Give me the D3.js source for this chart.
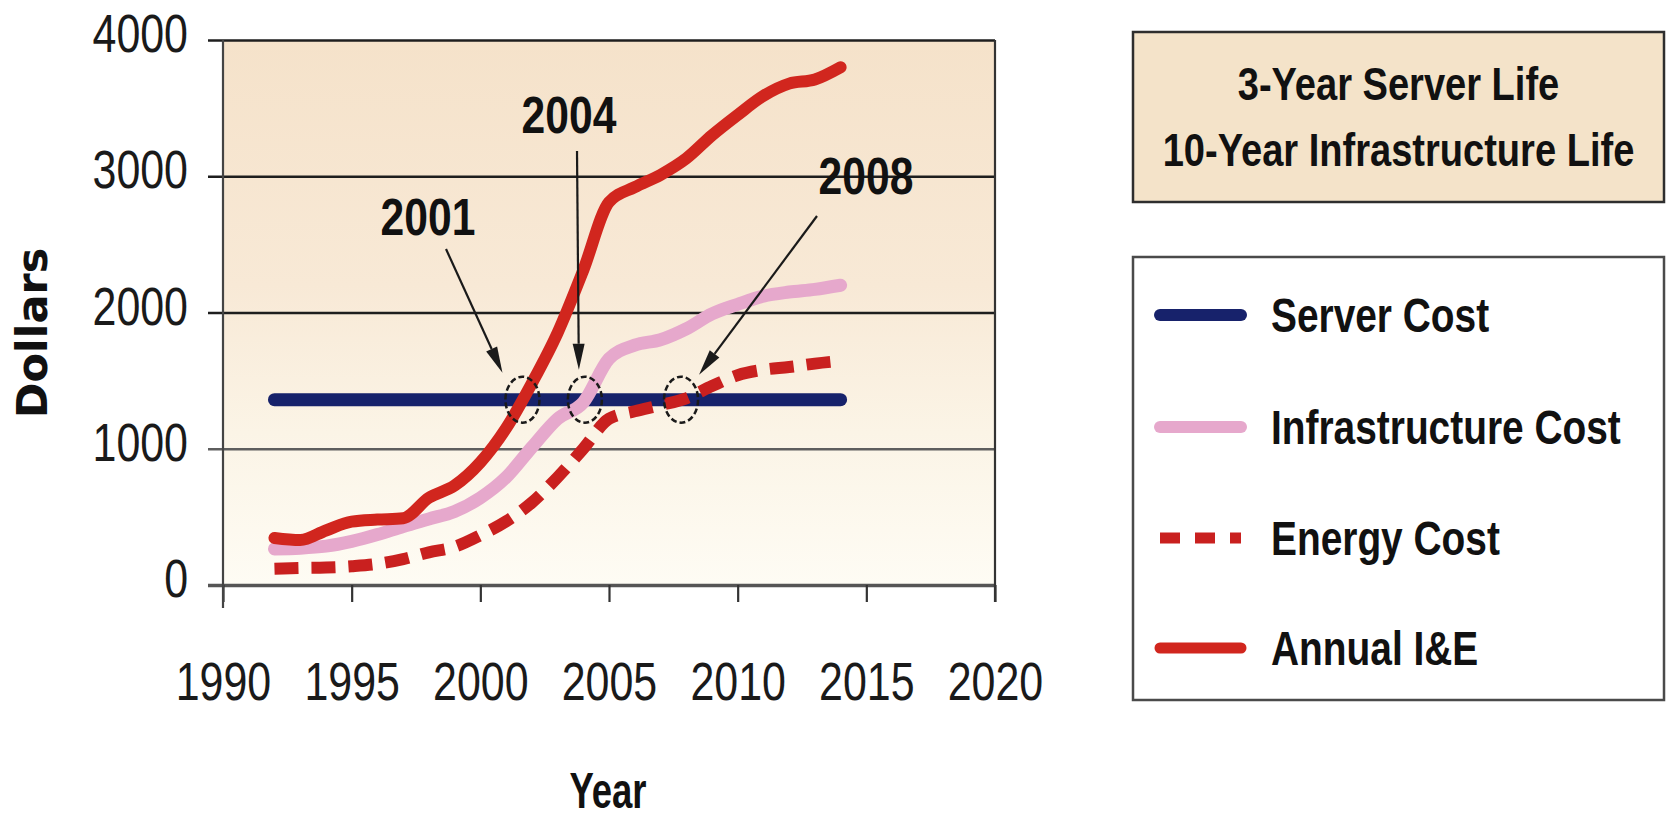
<!DOCTYPE html>
<html>
<head>
<meta charset="utf-8">
<script src="https://cdn.jsdelivr.net/npm/d3@7"></script>
<style>
  html, body { margin: 0; padding: 0; background: #ffffff; }
  svg { display: block; }
</style>
</head>
<body>
<svg id="chart" width="1667" height="820"></svg>
<script>
// ---- data ----
const years = [1992, 1993, 1994, 1995, 1996, 1997, 1998, 1999, 2000, 2001, 2002, 2003,
               2004, 2005, 2006, 2007, 2008, 2009, 2010, 2011, 2012, 2013, 2014];
const serverCost = [1360, 1360, 1360, 1360, 1360, 1360, 1360, 1360, 1360, 1360, 1360, 1360,
                    1360, 1360, 1360, 1360, 1360, 1360, 1360, 1360, 1360, 1360, 1360];
const infrastructureCost = [265, 270, 285, 320, 370, 430, 485, 540, 640, 790, 1010, 1220,
                            1340, 1660, 1760, 1800, 1880, 1990, 2060, 2120, 2150, 2170, 2200];
const energyCost = [120, 125, 128, 138, 155, 190, 240, 280, 365, 467, 605, 790,
                    1000, 1220, 1275, 1320, 1370, 1460, 1540, 1580, 1600, 1625, 1645];
const annualIE = [345, 330, 400, 465, 480, 490, 640, 730, 900, 1150, 1480, 1850,
                  2310, 2810, 2920, 3010, 3130, 3300, 3450, 3590, 3680, 3710, 3800];

const xTicks = [1990, 1995, 2000, 2005, 2010, 2015, 2020];
const yTicks = [0, 1000, 2000, 3000, 4000];
const seriesNames = ["Server Cost", "Infrastructure Cost", "Energy Cost", "Annual I&E"];
const boxTitle = ["3-Year Server Life", "10-Year Infrastructure Life"];
const calloutLabels = ["2001", "2004", "2008"];
const axisTitles = { x: "Year", y: "Dollars" };

// ---- setup ----
const svg = d3.select("#chart");
const plotLeft = 223, plotRight = 995, plotTop = 40, plotBottom = 585;
const x = d3.scaleLinear().domain([1990, 2020]).range([plotLeft, plotRight]);
const y = d3.scaleLinear().domain([0, 4000]).range([plotBottom, plotTop]);

const SANS = '"Liberation Sans", Arial, Helvetica, sans-serif';

// squeeze text horizontally to imitate a condensed face (anchor point is kept)
function condense(sel, factor) {
  sel.each(function () {
    const t = d3.select(this);
    const x0 = +t.attr("x") || 0;
    t.attr("x", x0 / factor).attr("transform", `scale(${factor},1)`);
  });
}

// plot background: beige fading to cream towards the baseline
const defs = svg.append("defs");
const grad = defs.append("linearGradient").attr("id", "plotBg")
  .attr("x1", 0).attr("y1", 0).attr("x2", 0).attr("y2", 1);
[["0%", "#f5e2ca"], ["45%", "#f8e9d6"], ["72%", "#fbf4e6"], ["100%", "#fefcf4"]]
  .forEach(([o, c]) => grad.append("stop").attr("offset", o).attr("stop-color", c));

svg.append("rect")
  .attr("x", plotLeft).attr("y", plotTop)
  .attr("width", plotRight - plotLeft).attr("height", plotBottom - plotTop)
  .attr("fill", "url(#plotBg)");

// ---- y axis: gridlines that also carry the left tick marks ----
const yAxis = d3.axisLeft(y)
  .tickValues(yTicks)
  .tickSize(plotRight - 208)
  .tickPadding(20)
  .tickFormat(d3.format("d"));
const gy = svg.append("g").attr("transform", `translate(${plotRight},0)`).call(yAxis);
gy.select(".domain").remove();
gy.selectAll(".tick line")
  .attr("stroke", d => d === 0 ? "#555" : (d === 1000 ? "#5e5e5e" : "#1e1e1e"))
  .attr("stroke-width", d => d === 0 ? 3.4 : 2.7);
gy.selectAll(".tick text")
  .attr("dy", "0.22em")
  .style("font-family", SANS)
  .style("font-size", "53px")
  .attr("fill", "#1a1a1a")
  .call(condense, 0.81);

// ---- x axis ----
const xAxis = d3.axisBottom(x)
  .tickValues(xTicks)
  .tickSize(17)
  .tickPadding(60)
  .tickFormat(d3.format("d"));
const gx = svg.append("g").attr("transform", `translate(0,${plotBottom})`).call(xAxis);
gx.select(".domain").remove();
gx.selectAll(".tick line").attr("stroke", "#333").attr("stroke-width", 2.2);
gx.selectAll(".tick text")
  .style("font-family", SANS)
  .style("font-size", "53px")
  .attr("fill", "#1a1a1a")
  .call(condense, 0.81);

// frame: left axis (runs down past the baseline) and right border
svg.append("line").attr("x1", plotLeft).attr("x2", plotLeft).attr("y1", y(4000)).attr("y2", plotBottom + 23)
  .attr("stroke", "#444").attr("stroke-width", 2.2);
svg.append("line").attr("x1", plotRight).attr("x2", plotRight).attr("y1", y(4000)).attr("y2", plotBottom + 17)
  .attr("stroke", "#333").attr("stroke-width", 2.2);

// axis titles
svg.append("text")
  .attr("transform", "translate(47,333) rotate(-90)")
  .attr("text-anchor", "middle")
  .style("font-family", '"DejaVu Sans", Verdana, sans-serif')
  .style("font-weight", "bold")
  .style("font-size", "43px")
  .attr("fill", "#111")
  .text(axisTitles.y);
svg.append("text")
  .attr("x", 608).attr("y", 808)
  .attr("text-anchor", "middle")
  .style("font-family", SANS)
  .style("font-weight", "bold")
  .style("font-size", "50px")
  .attr("fill", "#111")
  .text(axisTitles.x)
  .call(condense, 0.73);

// ---- series ----
const toPoints = vals => years.map((yr, i) => ({ year: yr, v: vals[i] }));
const line = d3.line().x(d => x(d.year)).y(d => y(d.v)).curve(d3.curveMonotoneX);

const styles = {
  "Server Cost":         { color: "#17226b", width: 13, dash: null, cap: "round" },
  "Infrastructure Cost": { color: "#e6a8cc", width: 13, dash: null, cap: "round" },
  "Energy Cost":         { color: "#c9201f", width: 12, dash: "24,13", cap: "butt" },
  "Annual I&E":          { color: "#d1261e", width: 12, dash: null, cap: "round" }
};
const seriesValues = {
  "Server Cost": serverCost,
  "Infrastructure Cost": infrastructureCost,
  "Energy Cost": energyCost,
  "Annual I&E": annualIE
};

seriesNames.forEach(name => {
  const s = styles[name];
  svg.append("path")
    .datum(toPoints(seriesValues[name]))
    .attr("d", line)
    .attr("fill", "none")
    .attr("stroke", s.color)
    .attr("stroke-width", s.width)
    .attr("stroke-linecap", s.cap)
    .attr("stroke-linejoin", "round")
    .attr("stroke-dasharray", s.dash);
});

// ---- callouts: where each cost line crosses the server cost ----
function crossing(vals) {
  for (let i = 0; i < years.length - 1; i++) {
    const a = vals[i] - serverCost[i], b = vals[i + 1] - serverCost[i + 1];
    if (a <= 0 && b > 0) {
      const t = -a / (b - a);
      return { year: years[i] + t * (years[i + 1] - years[i]),
               v: serverCost[i] + t * (serverCost[i + 1] - serverCost[i]) };
    }
  }
  return null;
}
const calloutSeries = ["Annual I&E", "Infrastructure Cost", "Energy Cost"];
// label centre, arrow tail, arrow head offset from the ring centre
const calloutLayout = [
  { tx: 428, ty: 216, sx: 446, sy: 249, hx: -20, hy: -27 },
  { tx: 569, ty: 114, sx: 577, sy: 151, hx: -6,  hy: -30 },
  { tx: 866, ty: 175, sx: 817, sy: 216, hx: 18,  hy: -25 }
];

calloutLabels.forEach((lab, i) => {
  const c = crossing(seriesValues[calloutSeries[i]]);
  const L = calloutLayout[i];
  const cx = x(c.year), cy = y(c.v);

  svg.append("ellipse")
    .attr("cx", cx).attr("cy", cy).attr("rx", 17).attr("ry", 23)
    .attr("fill", "none").attr("stroke", "#1a1a1a")
    .attr("stroke-width", 2.5).attr("stroke-dasharray", "6,3");

  const ex = cx + L.hx, ey = cy + L.hy;
  const ang = Math.atan2(ey - L.sy, ex - L.sx);
  const headLen = 26, headW = 6;
  const bx = ex - headLen * Math.cos(ang), by = ey - headLen * Math.sin(ang);
  svg.append("line")
    .attr("x1", L.sx).attr("y1", L.sy).attr("x2", bx).attr("y2", by)
    .attr("stroke", "#1a1a1a").attr("stroke-width", 2.2);
  const px = -Math.sin(ang) * headW, py = Math.cos(ang) * headW;
  svg.append("path")
    .attr("d", `M${ex},${ey}L${bx + px},${by + py}L${bx - px},${by - py}Z`)
    .attr("fill", "#1a1a1a");

  svg.append("text")
    .attr("x", L.tx).attr("y", L.ty).attr("dy", "0.36em")
    .attr("text-anchor", "middle")
    .style("font-family", SANS)
    .style("font-weight", "bold")
    .style("font-size", "52px")
    .attr("fill", "#111")
    .text(lab)
    .call(condense, 0.82);
});

// ---- title box ----
const bx0 = 1133, bx1 = 1664;
svg.append("rect")
  .attr("x", bx0).attr("y", 32).attr("width", bx1 - bx0).attr("height", 170)
  .attr("fill", "#f4e3c9").attr("stroke", "#2e2e2e").attr("stroke-width", 2.5);
boxTitle.forEach((t, i) => {
  svg.append("text")
    .attr("x", (bx0 + bx1) / 2).attr("y", 100 + i * 66)
    .attr("text-anchor", "middle")
    .style("font-family", SANS)
    .style("font-weight", "bold")
    .style("font-size", "47px")
    .attr("fill", "#111")
    .text(t)
    .call(condense, 0.81);
});

// ---- legend ----
svg.append("rect")
  .attr("x", bx0).attr("y", 257).attr("width", bx1 - bx0).attr("height", 443)
  .attr("fill", "#ffffff").attr("stroke", "#4a4a4a").attr("stroke-width", 2.5);
const legendRows = [315, 427, 538, 648];
seriesNames.forEach((name, i) => {
  const s = styles[name];
  const ly = legendRows[i];
  svg.append("line")
    .attr("x1", 1160).attr("x2", 1241).attr("y1", ly).attr("y2", ly)
    .attr("stroke", s.color).attr("stroke-width", s.width - 1)
    .attr("stroke-linecap", s.cap)
    .attr("stroke-dasharray", s.dash ? "20,15" : null);
  svg.append("text")
    .attr("x", 1271).attr("y", ly).attr("dy", "0.36em")
    .style("font-family", SANS)
    .style("font-weight", "bold")
    .style("font-size", "48px")
    .attr("fill", "#111")
    .text(name)
    .call(condense, 0.81);
});
</script>
</body>
</html>
